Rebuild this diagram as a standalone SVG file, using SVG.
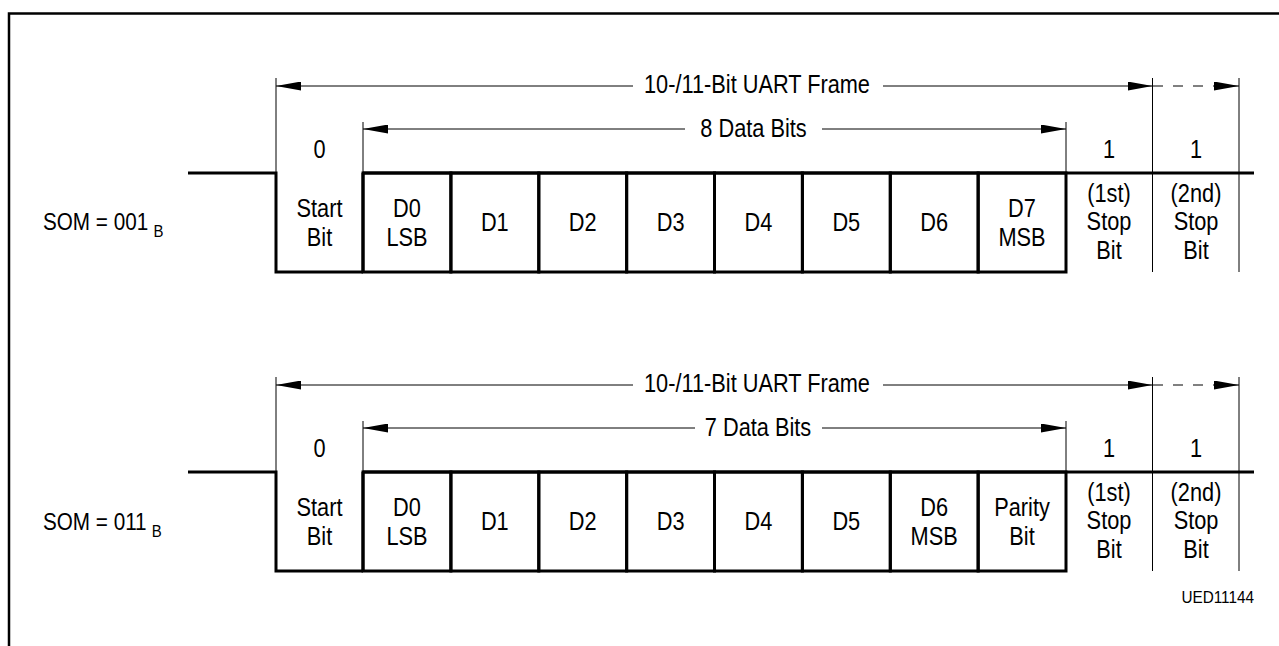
<svg xmlns="http://www.w3.org/2000/svg" width="1279" height="646" viewBox="0 0 1279 646">
<style>
.t{font-family:"Liberation Sans",Arial,Helvetica,sans-serif;font-size:25px;fill:#000;text-anchor:middle;transform-box:fill-box;transform-origin:center;transform:scaleX(0.87)}
.s{font-family:"Liberation Sans",Arial,Helvetica,sans-serif;font-size:23.5px;fill:#000;transform-box:fill-box;transform-origin:left center;transform:scaleX(0.88)}
.c{font-family:"Liberation Sans",Arial,Helvetica,sans-serif;font-size:17px;fill:#000;text-anchor:end;transform-box:fill-box;transform-origin:right center;transform:scaleX(0.9)}
.thin{stroke:#000;stroke-width:1;fill:none}
.thick{stroke:#000;stroke-width:3;fill:none}
.dash{stroke:#000;stroke-width:1;fill:none;stroke-dasharray:10 10}
.cell{stroke:#000;stroke-width:3;fill:none}
</style>
<defs>
<marker id="ah" markerWidth="25" markerHeight="9" refX="25" refY="4.5" orient="auto-start-reverse" markerUnits="userSpaceOnUse">
<path d="M0,0 L25,4.5 L0,9 z" fill="#000"/>
</marker>
</defs>
<rect width="1279" height="646" fill="#fff"/>
<path d="M9,700 V13.5 H1300" stroke="#000" stroke-width="2.5" fill="none"/>

<!-- Frame 1: SOM = 001B -->
<g id="frame1">
<text id="som1" class="s" x="43" y="230">SOM = 001<tspan dx="6" dy="7" font-size="17">B</tspan></text>
<g id="connectors1">
<line class="thin" x1="276" y1="78" x2="276" y2="173"/>
<line class="thin" x1="363" y1="122" x2="363" y2="173"/>
<line class="thin" x1="1066" y1="122" x2="1066" y2="173"/>
<line class="thin" x1="1152.5" y1="78" x2="1152.5" y2="272"/>
<line class="thin" x1="1239" y1="78" x2="1239" y2="272"/>
<line class="thin" x1="276" y1="86" x2="633" y2="86" marker-start="url(#ah)"/>
<line class="thin" x1="883" y1="86" x2="1152.5" y2="86" marker-end="url(#ah)"/>
<line class="dash" x1="1153" y1="86" x2="1239" y2="86" marker-end="url(#ah)"/>
<line class="thin" x1="363" y1="129" x2="685" y2="129" marker-start="url(#ah)"/>
<line class="thin" x1="822" y1="129" x2="1066" y2="129" marker-end="url(#ah)"/>
</g>
<text class="t" x="757" y="93">10-/11-Bit UART Frame</text>
<text class="t" x="753.5" y="137.5">8 Data Bits</text>
<path class="thick" d="M188,173 H276 V272 H363"/>
<path class="thick" d="M363,173 H1254"/>
<g id="f1-start"><path class="thick" d="M363,272 V173"/><text class="t" x="319.5" y="158">0</text><text class="t" x="319.5" y="217">Start</text><text class="t" x="319.5" y="246">Bit</text></g>
<g id="f1-d0"><rect class="cell" x="363" y="173" width="87.9" height="99"/><text class="t" x="407" y="217">D0</text><text class="t" x="407" y="246">LSB</text></g>
<g id="f1-d1"><rect class="cell" x="450.9" y="173" width="87.9" height="99"/><text class="t" x="494.8" y="231.5">D1</text></g>
<g id="f1-d2"><rect class="cell" x="538.8" y="173" width="87.9" height="99"/><text class="t" x="582.7" y="231.5">D2</text></g>
<g id="f1-d3"><rect class="cell" x="626.6" y="173" width="87.9" height="99"/><text class="t" x="670.6" y="231.5">D3</text></g>
<g id="f1-d4"><rect class="cell" x="714.5" y="173" width="87.9" height="99"/><text class="t" x="758.4" y="231.5">D4</text></g>
<g id="f1-d5"><rect class="cell" x="802.4" y="173" width="87.9" height="99"/><text class="t" x="846.3" y="231.5">D5</text></g>
<g id="f1-d6"><rect class="cell" x="890.3" y="173" width="87.9" height="99"/><text class="t" x="934.2" y="231.5">D6</text></g>
<g id="f1-d7"><rect class="cell" x="978.1" y="173" width="87.9" height="99"/><text class="t" x="1022" y="217">D7</text><text class="t" x="1022" y="246">MSB</text></g>
<g id="f1-stop1"><text class="t" x="1109" y="158">1</text><text class="t" x="1109" y="202">(1st)</text><text class="t" x="1109" y="230.5">Stop</text><text class="t" x="1109" y="259">Bit</text></g>
<g id="f1-stop2"><text class="t" x="1196" y="158">1</text><text class="t" x="1196" y="202">(2nd)</text><text class="t" x="1196" y="230.5">Stop</text><text class="t" x="1196" y="259">Bit</text></g>
</g>

<!-- Frame 2: SOM = 011B -->
<g id="frame2" transform="translate(0,299)">
<text id="som2" class="s" x="43" y="231">SOM = 011<tspan dx="6" dy="7" font-size="17">B</tspan></text>
<g id="connectors2">
<line class="thin" x1="276" y1="78" x2="276" y2="173"/>
<line class="thin" x1="363" y1="122" x2="363" y2="173"/>
<line class="thin" x1="1066" y1="122" x2="1066" y2="173"/>
<line class="thin" x1="1152.5" y1="78" x2="1152.5" y2="272"/>
<line class="thin" x1="1239" y1="78" x2="1239" y2="272"/>
<line class="thin" x1="276" y1="86" x2="633" y2="86" marker-start="url(#ah)"/>
<line class="thin" x1="883" y1="86" x2="1152.5" y2="86" marker-end="url(#ah)"/>
<line class="dash" x1="1153" y1="86" x2="1239" y2="86" marker-end="url(#ah)"/>
<line class="thin" x1="363" y1="129" x2="695" y2="129" marker-start="url(#ah)"/>
<line class="thin" x1="822" y1="129" x2="1066" y2="129" marker-end="url(#ah)"/>
</g>
<text class="t" x="757" y="93">10-/11-Bit UART Frame</text>
<text class="t" x="758" y="137.5">7 Data Bits</text>
<path class="thick" d="M188,173 H276 V272 H363"/>
<path class="thick" d="M363,173 H1254"/>
<g id="f2-start"><path class="thick" d="M363,272 V173"/><text class="t" x="319.5" y="158">0</text><text class="t" x="319.5" y="217">Start</text><text class="t" x="319.5" y="246">Bit</text></g>
<g id="f2-d0"><rect class="cell" x="363" y="173" width="87.9" height="99"/><text class="t" x="407" y="217">D0</text><text class="t" x="407" y="246">LSB</text></g>
<g id="f2-d1"><rect class="cell" x="450.9" y="173" width="87.9" height="99"/><text class="t" x="494.8" y="231.5">D1</text></g>
<g id="f2-d2"><rect class="cell" x="538.8" y="173" width="87.9" height="99"/><text class="t" x="582.7" y="231.5">D2</text></g>
<g id="f2-d3"><rect class="cell" x="626.6" y="173" width="87.9" height="99"/><text class="t" x="670.6" y="231.5">D3</text></g>
<g id="f2-d4"><rect class="cell" x="714.5" y="173" width="87.9" height="99"/><text class="t" x="758.4" y="231.5">D4</text></g>
<g id="f2-d5"><rect class="cell" x="802.4" y="173" width="87.9" height="99"/><text class="t" x="846.3" y="231.5">D5</text></g>
<g id="f2-d6"><rect class="cell" x="890.3" y="173" width="87.9" height="99"/><text class="t" x="934.2" y="217">D6</text><text class="t" x="934.2" y="246">MSB</text></g>
<g id="f2-parity"><rect class="cell" x="978.1" y="173" width="87.9" height="99"/><text class="t" x="1022" y="217">Parity</text><text class="t" x="1022" y="246">Bit</text></g>
<g id="f2-stop1"><text class="t" x="1109" y="158">1</text><text class="t" x="1109" y="202">(1st)</text><text class="t" x="1109" y="230.5">Stop</text><text class="t" x="1109" y="259">Bit</text></g>
<g id="f2-stop2"><text class="t" x="1196" y="158">1</text><text class="t" x="1196" y="202">(2nd)</text><text class="t" x="1196" y="230.5">Stop</text><text class="t" x="1196" y="259">Bit</text></g>
</g>

<text id="code" class="c" x="1254" y="603">UED11144</text>
</svg>
